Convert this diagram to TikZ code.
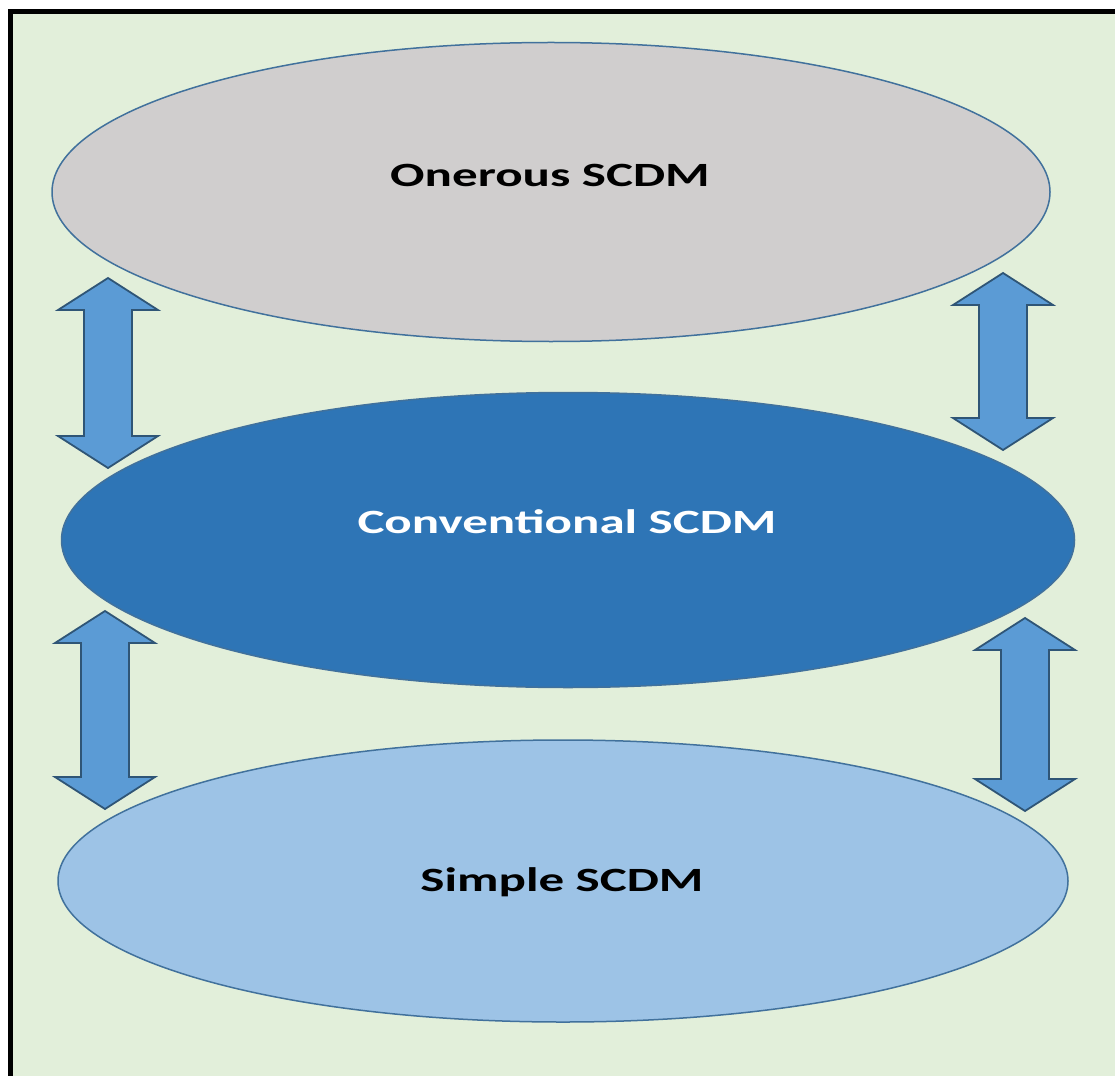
\documentclass[tikz,border=0pt]{standalone}
\usepackage{fontspec}
\setmainfont{Carlito}
\usetikzlibrary{shapes.geometric}
\definecolor{pagegreen}{HTML}{E2EFDA}
\definecolor{onerousfill}{HTML}{D0CECE}
\definecolor{convfill}{HTML}{2E75B6}
\definecolor{simplefill}{HTML}{9DC3E6}
\definecolor{edgeblue}{HTML}{41719C}
\definecolor{arrowfill}{HTML}{5B9BD5}
\definecolor{arrowedge}{HTML}{2F5576}
\tikzset{
  level/.style={ellipse, draw=edgeblue, line width=1.5pt, inner sep=0pt},
  levellabel/.style={font=\bfseries\fontsize{34}{40}\selectfont, inner sep=0pt},
  dblarrow/.style={fill=arrowfill, draw=arrowedge, line width=1.8pt, line join=miter},
  pics/updown/.style={code={
    \path[dblarrow] (0,0) -- (50,32) -- (24,32) -- (24,#1-32) -- (50,#1-32)
      -- (0,#1) -- (-50,#1-32) -- (-24,#1-32) -- (-24,32) -- (-50,32) -- cycle;
  }}
}
\newcommand{\wide}[1]{\scalebox{1.5}[1]{#1}}
\begin{document}
\begin{tikzpicture}[x=1pt,y=-1pt]
  \useasboundingbox (0,0) rectangle (1115,1075);
  \fill[white] (0,0) rectangle (1115,1075);
  \begin{scope}
    \clip (0,0) rectangle (1115,1075);
    \draw[fill=pagegreen, line width=5pt] (10,12) rectangle (1130,1090);
  \end{scope}

  % the three levels
  \node[level, fill=onerousfill, minimum width=998pt, minimum height=299pt] (onerous) at (551,192) {};
  \node[level, fill=convfill, minimum width=1013pt, minimum height=295pt] (conv) at (568,540) {};
  \node[level, fill=simplefill, minimum width=1010pt, minimum height=282pt] (simple) at (563,881) {};

  \node[levellabel, text=black] (onerouslabel) at (550,175) {\wide{Onerous SCDM}};
  \node[levellabel, text=white] (convlabel) at (567,522) {\wide{Conventional SCDM}};
  \node[levellabel, text=black] (simplelabel) at (562,882) {\wide{Simple SCDM}};

  % two-way arrows between neighbouring levels
  \pic at (108,278) {updown=190};
  \pic at (1003,273) {updown=177};
  \pic at (105,611) {updown=198};
  \pic at (1025,618) {updown=193};
\end{tikzpicture}
\end{document}
